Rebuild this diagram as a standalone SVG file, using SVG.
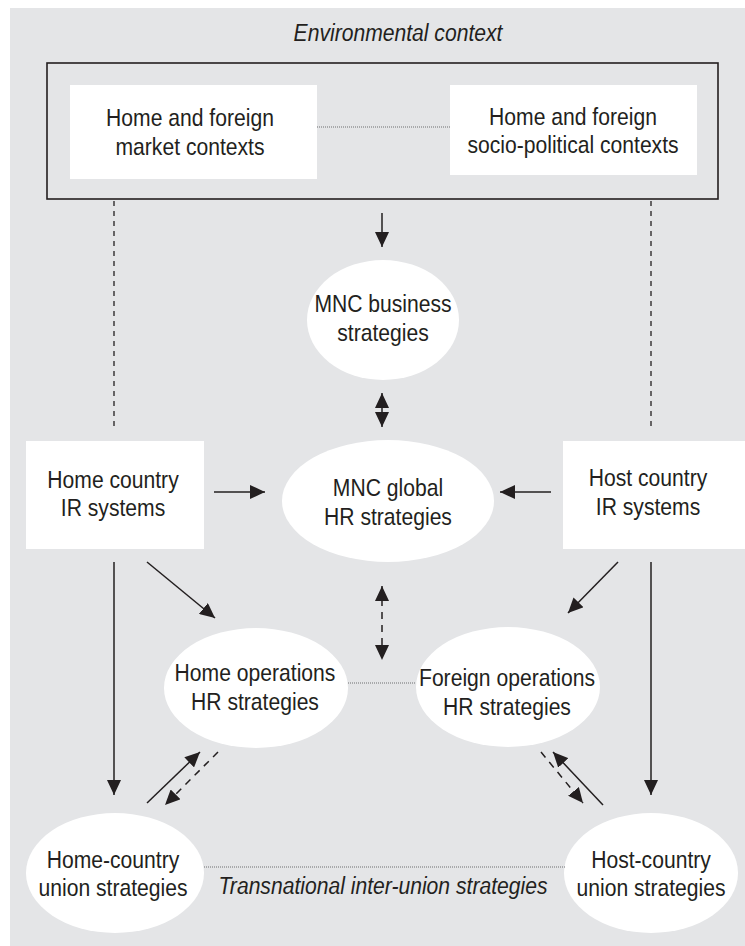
<svg xmlns="http://www.w3.org/2000/svg" width="745" height="946" viewBox="0 0 745 946">
  <defs>
    <style>
      .panel { fill: #e4e5e7; }
      .box { fill: #ffffff; stroke: none; }
      .frame { fill: none; stroke: #231f20; stroke-width: 1.6; }
      .lbl { font-family: "Liberation Sans", Arial, sans-serif; font-size: 24px; fill: #231f20; text-anchor: middle; }
      .it { font-style: italic; }
      .arrow { fill: none; stroke: #231f20; stroke-width: 1.5; }
      .dash { stroke-dasharray: 7 6; }
      .vdash { fill: none; stroke: #231f20; stroke-width: 1.3; stroke-dasharray: 5 5; }
      .dot { fill: none; stroke: #6d6e70; stroke-width: 1.2; stroke-dasharray: 1 1; }
    </style>
    <marker id="head" viewBox="0 0 15 14" refX="15" refY="7" markerWidth="15" markerHeight="14" markerUnits="userSpaceOnUse" orient="auto-start-reverse">
      <path d="M0,0 L15,7 L0,14 z" fill="#231f20"/>
    </marker>
  </defs>

  <!-- background panel -->
  <rect class="panel" x="10" y="8" width="735" height="938"/>

  <!-- labels are set in a condensed cut: horizontal scale 0.88 -->
  <g id="env">
    <text class="lbl it" transform="translate(398 41) scale(0.88 1)">Environmental context</text>
    <rect class="frame" x="47" y="63" width="671" height="136"/>
  </g>
  <g id="market">
    <rect class="box" x="70" y="85" width="247" height="94"/>
    <text class="lbl" transform="translate(190 126) scale(0.88 1)">Home and foreign</text>
    <text class="lbl" transform="translate(190 155) scale(0.88 1)">market contexts</text>
  </g>
  <g id="sociopolitical">
    <rect class="box" x="450" y="85" width="247" height="90"/>
    <text class="lbl" transform="translate(573 125) scale(0.88 1)">Home and foreign</text>
    <text class="lbl" transform="translate(573 153) scale(0.88 1)">socio-political contexts</text>
  </g>

  <g id="business">
    <ellipse class="box" cx="383" cy="320" rx="76" ry="60"/>
    <text class="lbl" transform="translate(383 312) scale(0.88 1)">MNC business</text>
    <text class="lbl" transform="translate(383 341) scale(0.88 1)">strategies</text>
  </g>

  <g id="home-ir">
    <rect class="box" x="26" y="441" width="178" height="108"/>
    <text class="lbl" transform="translate(113 488) scale(0.88 1)">Home country</text>
    <text class="lbl" transform="translate(113 516) scale(0.88 1)">IR systems</text>
  </g>
  <g id="host-ir">
    <rect class="box" x="563" y="441" width="182" height="108"/>
    <text class="lbl" transform="translate(648 486) scale(0.88 1)">Host country</text>
    <text class="lbl" transform="translate(648 515) scale(0.88 1)">IR systems</text>
  </g>

  <g id="global-hr">
    <ellipse class="box" cx="388" cy="501" rx="106" ry="61"/>
    <text class="lbl" transform="translate(388 496) scale(0.88 1)">MNC global</text>
    <text class="lbl" transform="translate(388 525) scale(0.88 1)">HR strategies</text>
  </g>

  <g id="home-ops">
    <ellipse class="box" cx="256" cy="688" rx="92" ry="60"/>
    <text class="lbl" transform="translate(255 681) scale(0.88 1)">Home operations</text>
    <text class="lbl" transform="translate(255 710) scale(0.88 1)">HR strategies</text>
  </g>
  <g id="foreign-ops">
    <ellipse class="box" cx="508" cy="687" rx="92" ry="60"/>
    <text class="lbl" transform="translate(507 686) scale(0.88 1)">Foreign operations</text>
    <text class="lbl" transform="translate(507 715) scale(0.88 1)">HR strategies</text>
  </g>

  <g id="home-union">
    <ellipse class="box" cx="115" cy="873" rx="89" ry="60"/>
    <text class="lbl" transform="translate(113 868) scale(0.88 1)">Home-country</text>
    <text class="lbl" transform="translate(113 896) scale(0.88 1)">union strategies</text>
  </g>
  <g id="host-union">
    <ellipse class="box" cx="651" cy="873" rx="87" ry="60"/>
    <text class="lbl" transform="translate(651 868) scale(0.88 1)">Host-country</text>
    <text class="lbl" transform="translate(651 896) scale(0.88 1)">union strategies</text>
  </g>

  <text class="lbl it" transform="translate(383 894) scale(0.88 1)">Transnational inter-union strategies</text>

  <!-- connectors -->
  <g id="connectors">
    <!-- dotted associations -->
    <line class="dot" x1="317" y1="127" x2="450" y2="127"/>
    <line class="dot" x1="348" y1="683" x2="416" y2="683"/>
    <line class="dot" x1="204" y1="867" x2="565" y2="867"/>

    <!-- dashed links from environment to IR systems -->
    <line class="vdash" x1="114" y1="201" x2="114" y2="428"/>
    <line class="vdash" x1="651" y1="201" x2="651" y2="428"/>

    <!-- environment to business strategies -->
    <line class="arrow" x1="382" y1="213" x2="382" y2="247" marker-end="url(#head)"/>
    <!-- business <-> global HR -->
    <line class="arrow" x1="382" y1="393" x2="382" y2="427" marker-start="url(#head)" marker-end="url(#head)"/>
    <!-- IR systems to global HR -->
    <line class="arrow" x1="214" y1="492" x2="265" y2="492" marker-end="url(#head)"/>
    <line class="arrow" x1="551" y1="492" x2="500" y2="492" marker-end="url(#head)"/>
    <!-- global HR <-> operations (dashed) -->
    <line class="arrow dash" x1="382" y1="586" x2="382" y2="660" marker-start="url(#head)" marker-end="url(#head)"/>
    <!-- IR systems to operations -->
    <line class="arrow" x1="147" y1="562" x2="215" y2="618" marker-end="url(#head)"/>
    <line class="arrow" x1="618" y1="562" x2="568" y2="613" marker-end="url(#head)"/>
    <!-- IR systems to unions -->
    <line class="arrow" x1="114" y1="562" x2="114" y2="795" marker-end="url(#head)"/>
    <line class="arrow" x1="651" y1="562" x2="651" y2="795" marker-end="url(#head)"/>
    <!-- unions <-> operations -->
    <line class="arrow" x1="147" y1="803" x2="200" y2="752" marker-end="url(#head)"/>
    <line class="arrow dash" x1="218" y1="752" x2="165" y2="805" marker-end="url(#head)"/>
    <line class="arrow dash" x1="541" y1="752" x2="583" y2="803" marker-end="url(#head)"/>
    <line class="arrow" x1="603" y1="805" x2="553" y2="752" marker-end="url(#head)"/>
  </g>
</svg>
